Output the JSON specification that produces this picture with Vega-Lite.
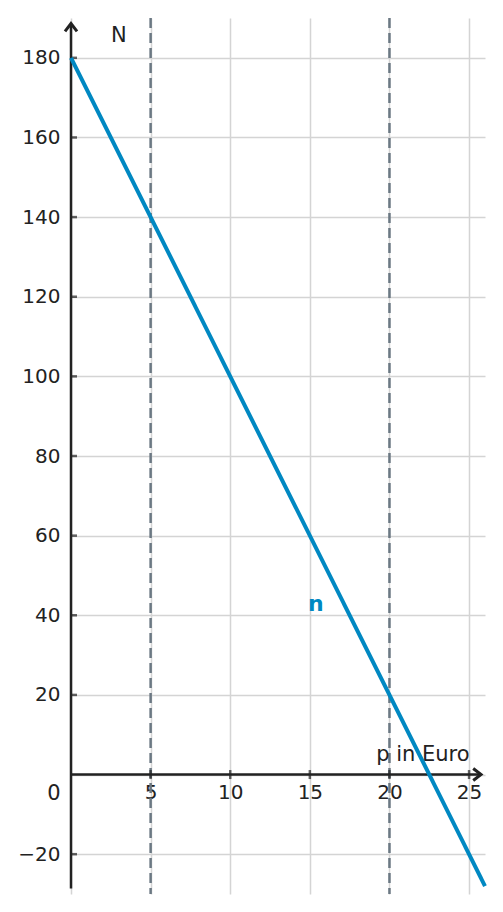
{
  "$schema": "https://vega.github.io/schema/vega-lite/v6.json",
  "width": 414,
  "height": 876,
  "autosize": {"type": "none"},
  "padding": {"left": 71, "top": 18, "right": 18, "bottom": 18},
  "background": "white",
  "config": {
    "view": {"stroke": null},
    "font": "DejaVu Sans",
    "axis": {
      "domain": false,
      "ticks": false,
      "grid": true,
      "gridColor": "#d4d4d4",
      "gridWidth": 1.5,
      "labelFont": "DejaVu Sans",
      "labelFontSize": 20,
      "labelColor": "#222222",
      "title": null
    }
  },
  "layer": [
    {
      "data": {"values": [{"p": 5}, {"p": 20}]},
      "mark": {"type": "rule", "color": "#6b7883", "strokeWidth": 2.5, "strokeDash": [10, 5]},
      "encoding": {
        "x": {
          "field": "p",
          "type": "quantitative",
          "scale": {"domain": [0, 26], "nice": false, "zero": false},
          "axis": {
            "values": [0, 5, 10, 15, 20, 25],
            "offset": -120,
            "labelPadding": 8,
            "labelExpr": "datum.value == 0 ? '' : datum.label"
          }
        }
      }
    },
    {
      "data": {"values": [{"N": -20}, {"N": 20}, {"N": 40}, {"N": 60}, {"N": 80}, {"N": 100}, {"N": 120}, {"N": 140}, {"N": 160}, {"N": 180}]},
      "mark": {"type": "tick", "orient": "horizontal", "color": "#222222", "size": 6, "thickness": 2.5, "xOffset": 3},
      "encoding": {
        "x": {"datum": 0},
        "y": {
          "field": "N",
          "type": "quantitative",
          "scale": {"domain": [-30, 190], "nice": false, "zero": false},
          "axis": {
            "values": [-20, 0, 20, 40, 60, 80, 100, 120, 140, 160, 180],
            "labelPadding": 11,
            "labelExpr": "datum.value == 0 ? '' : datum.label"
          }
        }
      }
    },
    {
      "data": {"values": [
        {"p": 0, "N": -28.6, "p2": 0, "N2": 188.5},
        {"p": 0, "N": 0, "p2": 25.7, "N2": 0}
      ]},
      "mark": {"type": "rule", "color": "#222222", "strokeWidth": 2.5},
      "encoding": {
        "x": {"field": "p", "type": "quantitative"},
        "y": {"field": "N", "type": "quantitative"},
        "x2": {"field": "p2"},
        "y2": {"field": "N2"}
      }
    },
    {
      "data": {"values": [{"p": 5}, {"p": 10}, {"p": 15}, {"p": 20}, {"p": 25}]},
      "mark": {"type": "tick", "orient": "vertical", "color": "#222222", "size": 9, "thickness": 2.5},
      "encoding": {
        "x": {"field": "p", "type": "quantitative"},
        "y": {"datum": 0}
      }
    },
    {
      "data": {"values": [
        {"p": 0, "N": 188.6, "dir": "up"},
        {"p": 25.75, "N": 0, "dir": "right"}
      ]},
      "mark": {"type": "point", "filled": false, "strokeWidth": 3, "color": "#222222", "size": 144, "opacity": 1, "strokeJoin": "miter"},
      "encoding": {
        "x": {"field": "p", "type": "quantitative"},
        "y": {"field": "N", "type": "quantitative"},
        "shape": {
          "field": "dir",
          "type": "nominal",
          "scale": {"domain": ["up", "right"], "range": ["M-1,1.3L0,0L1,1.3", "M-1.3,-1L0,0L-1.3,1"]},
          "legend": null
        }
      }
    },
    {
      "data": {"values": [
        {"p": 3.0, "N": 185.4, "label": "N"},
        {"p": 22.1, "N": 5.0, "label": "p in Euro"},
        {"p": -1.07, "N": -4.8, "label": "0"}
      ]},
      "mark": {"type": "text", "fontSize": 21, "color": "#222222", "align": "center", "baseline": "middle"},
      "encoding": {
        "x": {"field": "p", "type": "quantitative"},
        "y": {"field": "N", "type": "quantitative"},
        "text": {"field": "label"}
      }
    },
    {
      "data": {"values": [{"p": 0, "N": 180}, {"p": 26, "N": -28}]},
      "mark": {"type": "line", "color": "#0088c2", "strokeWidth": 4},
      "encoding": {
        "x": {"field": "p", "type": "quantitative"},
        "y": {"field": "N", "type": "quantitative"}
      }
    },
    {
      "data": {"values": [{"p": 15.38, "N": 42.9, "label": "n"}]},
      "mark": {"type": "text", "fontSize": 22, "fontWeight": "bold", "color": "#0088c2", "align": "center", "baseline": "middle"},
      "encoding": {
        "x": {"field": "p", "type": "quantitative"},
        "y": {"field": "N", "type": "quantitative"},
        "text": {"field": "label"}
      }
    }
  ]
}
